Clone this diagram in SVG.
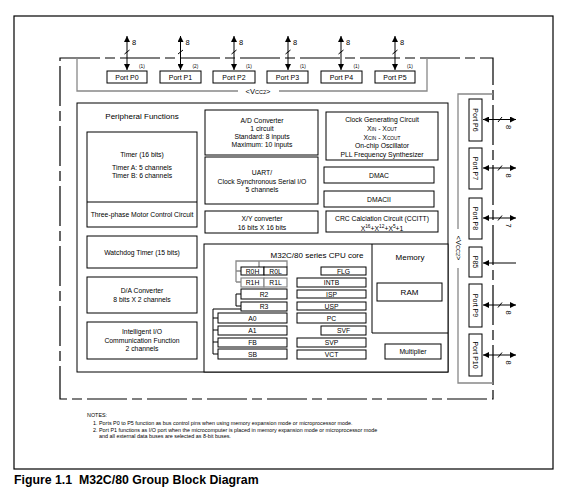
<svg xmlns="http://www.w3.org/2000/svg" width="574" height="496" viewBox="0 0 574 496">
<style>
text{font-family:"Liberation Sans",Arial,sans-serif;fill:#000}
.b{fill:#fff;stroke:#000;stroke-width:1}
.bg{fill:#fff;stroke:#888;stroke-width:1.2}
.g{fill:none;stroke:#888;stroke-width:1.3}
.k{fill:none;stroke:#000;stroke-width:1}
.d{fill:none;stroke:#000;stroke-width:1.2;stroke-dasharray:40 5 10 5}
.t{font-size:6.8px;text-anchor:middle}
.p{font-size:7px;text-anchor:middle}
.h{font-size:8px;text-anchor:middle}
.s{font-size:4.8px}
.n{font-size:5.4px}
.a{stroke:#000;stroke-width:1;marker-start:url(#ah);marker-end:url(#ah)}
</style>
<defs>
<marker id="ah" viewBox="0 0 10 10" refX="10" refY="5" markerUnits="userSpaceOnUse" markerWidth="8" markerHeight="6" orient="auto-start-reverse"><path d="M0,0 L10,5 L0,10 z" fill="#000"/></marker>
</defs>
<rect x="14" y="16" width="539" height="453" fill="none" stroke="#000" stroke-width="1.2"/>
<rect x="60" y="58" width="433" height="341" class="d"/>
<g id="vcc2-top"><path class="g" d="M77,58 V91 H238 M279,91 H427 V58"/><text x="258" y="94" font-size="7.5" text-anchor="middle">&lt;V<tspan font-size="5.5">CC2</tspan>&gt;</text></g>
<g id="vcc2-right"><path class="g" d="M493,94 H458 V229 M458,268 V383 H493"/><text transform="translate(458,248) rotate(90)" font-size="7.5" text-anchor="middle" dominant-baseline="central">&lt;V<tspan font-size="5.5">CC2</tspan>&gt;</text></g>
<g id="connectors">
<line class="a" x1="127" y1="36" x2="127" y2="70"/><line class="a" x1="180.5" y1="36" x2="180.5" y2="70"/><line class="a" x1="234" y1="36" x2="234" y2="70"/><line class="a" x1="288" y1="36" x2="288" y2="70"/><line class="a" x1="341" y1="36" x2="341" y2="70"/><line class="a" x1="395" y1="36" x2="395" y2="70"/>
<path class="k" d="M124.5,54 L129.5,50 M178,54 L183,50 M231.5,54 L236.5,50 M285.5,54 L290.5,50 M338.5,54 L343.5,50 M392.5,54 L397.5,50"/>
<line class="a" x1="483" y1="119.5" x2="516" y2="119.5"/><line class="a" x1="483" y1="168" x2="516" y2="168"/><line class="a" x1="483" y1="218" x2="516" y2="218"/><line class="a" x1="483" y1="305" x2="516" y2="305"/><line class="a" x1="483" y1="355" x2="516" y2="355"/>
<line x1="516" y1="263" x2="483" y2="263" stroke="#000" stroke-width="1" marker-end="url(#ah)"/>
<path class="k" d="M498,122 L502,117 M498,170.5 L502,165.5 M498,220.5 L502,215.5 M498,307.5 L502,302.5 M498,357.5 L502,352.5"/>
</g>
<g id="conn-labels" font-size="7.5">
<text x="132" y="45">8</text><text x="185.5" y="45">8</text><text x="239" y="45">8</text><text x="293" y="45">8</text><text x="346" y="45">8</text><text x="400" y="45">8</text>
<text transform="translate(506,125) rotate(90)">8</text><text transform="translate(506,173.5) rotate(90)">8</text><text transform="translate(506,223.5) rotate(90)">7</text><text transform="translate(506,310.5) rotate(90)">8</text><text transform="translate(506,360.5) rotate(90)">8</text>
</g>
<g id="port-p0"><rect class="b" x="107" y="71" width="40" height="12"/><text class="p" x="127" y="79.5">Port P0</text><text class="s" x="139" y="68">(1)</text></g>
<g id="port-p1"><rect class="b" x="160" y="71" width="41" height="12"/><text class="p" x="180.5" y="79.5">Port P1</text><text class="s" x="192.5" y="68">(2)</text></g>
<g id="port-p2"><rect class="b" x="213" y="71" width="42" height="12"/><text class="p" x="234" y="79.5">Port P2</text><text class="s" x="246" y="68">(1)</text></g>
<g id="port-p3"><rect class="b" x="267" y="71" width="41" height="12"/><text class="p" x="287.5" y="79.5">Port P3</text><text class="s" x="300" y="68">(1)</text></g>
<g id="port-p4"><rect class="b" x="321" y="71" width="41" height="12"/><text class="p" x="341.5" y="79.5">Port P4</text><text class="s" x="353.5" y="68">(1)</text></g>
<g id="port-p5"><rect class="b" x="375" y="71" width="40" height="12"/><text class="p" x="395" y="79.5">Port P5</text><text class="s" x="407" y="68">(1)</text></g>
<g id="port-p6"><rect class="b" x="469" y="99" width="13" height="42"/><text class="p" transform="translate(475.5,120) rotate(90)" dominant-baseline="central">Port P6</text></g>
<g id="port-p7"><rect class="b" x="469" y="148" width="13" height="41"/><text class="p" transform="translate(475.5,168.5) rotate(90)" dominant-baseline="central">Port P7</text></g>
<g id="port-p8"><rect class="b" x="469" y="198" width="13" height="41"/><text class="p" transform="translate(475.5,218.5) rotate(90)" dominant-baseline="central">Port P8</text></g>
<g id="port-p85"><rect class="b" x="469" y="247" width="13" height="30"/><text class="p" transform="translate(475.5,262) rotate(90)" dominant-baseline="central">P85</text></g>
<g id="port-p9"><rect class="b" x="469" y="284" width="13" height="43"/><text class="p" transform="translate(475.5,305.5) rotate(90)" dominant-baseline="central">Port P9</text></g>
<g id="port-p10"><rect class="b" x="469" y="334" width="13" height="42"/><text class="p" transform="translate(475.5,355) rotate(90)" dominant-baseline="central">Port P10</text></g>
<g id="peripheral"><rect class="b" x="77" y="103" width="371" height="269"/><text x="142" y="119" font-size="8" text-anchor="middle">Peripheral Functions</text></g>
<g id="timer"><rect class="b" x="87" y="132" width="110" height="95"/><line class="k" x1="87" y1="202" x2="197" y2="202"/><text class="t" x="142" y="157">Timer (16 bits)</text><text class="t" x="142" y="170">Timer A: 5 channels</text><text class="t" x="142" y="178">Timer B: 6 channels</text><text class="t" x="142" y="217">Three-phase Motor Control Circuit</text></g>
<g id="watchdog"><rect class="b" x="87" y="236" width="110" height="32"/><text class="t" x="142" y="254.5">Watchdog Timer (15 bits)</text></g>
<g id="da"><rect class="b" x="87" y="277" width="110" height="36"/><text class="t" x="142" y="293">D/A Converter</text><text class="t" x="142" y="301.5">8 bits X 2 channels</text></g>
<g id="iio"><rect class="b" x="87" y="322" width="110" height="37"/><text class="t" x="142" y="334">Intelligent I/O</text><text class="t" x="142" y="342.5">Communication Function</text><text class="t" x="142" y="351">2 channels</text></g>
<g id="ad"><rect class="b" x="205" y="110" width="113" height="45"/><text class="t" x="262" y="123">A/D Converter</text><text class="t" x="262" y="131">1 circuit</text><text class="t" x="262" y="139">Standard: 8 inputs</text><text class="t" x="262" y="147">Maximum: 10 inputs</text></g>
<g id="uart"><rect class="b" x="205" y="157" width="113" height="47"/><text class="t" x="262" y="175">UART/</text><text class="t" x="262" y="184">Clock Synchronous Serial I/O</text><text class="t" x="262" y="192">5 channels</text></g>
<g id="xy"><rect class="b" x="205" y="211" width="113" height="22"/><text class="t" x="262" y="221">X/Y converter</text><text class="t" x="262" y="230">16 bits X 16 bits</text></g>
<g id="clock"><rect class="b" x="326" y="112" width="112" height="48"/><text class="t" x="382" y="122">Clock Generating Circuit</text><text class="t" x="382" y="131">X<tspan font-size="4.8">IN</tspan> - X<tspan font-size="4.8">OUT</tspan></text><text class="t" x="382" y="139.5">X<tspan font-size="4.8">CIN</tspan> - X<tspan font-size="4.8">COUT</tspan></text><text class="t" x="382" y="148">On-chip Oscillator</text><text class="t" x="382" y="156.5">PLL Frequency Synthesizer</text></g>
<g id="dmac"><rect class="b" x="324" y="167" width="110" height="16"/><text class="t" x="379" y="177.5">DMAC</text></g>
<g id="dmacii"><rect class="b" x="324" y="191" width="110" height="16"/><text class="t" x="379" y="201.5">DMACII</text></g>
<g id="crc"><rect class="b" x="326" y="211" width="112" height="21"/><text class="t" x="382" y="221">CRC Calciation Circuit (CCITT)</text><text class="t" x="382" y="230.5">X<tspan font-size="4.8" dy="-2.5">16</tspan><tspan dy="2.5">+X</tspan><tspan font-size="4.8" dy="-2.5">12</tspan><tspan dy="2.5">+X</tspan><tspan font-size="4.8" dy="-2.5">5</tspan><tspan dy="2.5">+1</tspan></text></g>
<g id="cpu"><rect class="b" x="204" y="244" width="244" height="128"/><text class="h" x="317" y="258">M32C/80 series CPU core</text>
<path class="g" d="M236,282 V261 H287 V267 M259,261 V267 M236,271 H241 M236,282 H241"/>
<path class="k" d="M241,294 H236 V306 H241 M241,309 H213 V354 H218 M213,318 H218 M213,330 H218 M213,342 H218"/>
<rect class="b" x="241" y="267" width="23" height="8"/><text class="t" x="252.5" y="273.5">R0H</text>
<rect class="b" x="264" y="267" width="23" height="8"/><text class="t" x="275.5" y="273.5">R0L</text>
<rect class="bg" x="241" y="278" width="23" height="9"/><text class="t" x="252.5" y="285">R1H</text>
<rect class="bg" x="264" y="278" width="23" height="9"/><text class="t" x="275.5" y="285">R1L</text>
<rect class="b" x="241" y="289" width="46" height="10"/><text class="t" x="264" y="296.5">R2</text>
<rect class="b" x="241" y="302" width="46" height="9"/><text class="t" x="264" y="309">R3</text>
<rect class="b" x="218" y="313" width="69" height="10"/><text class="t" x="252.5" y="320.5">A0</text>
<rect class="b" x="218" y="326" width="69" height="9"/><text class="t" x="252.5" y="333">A1</text>
<rect class="b" x="218" y="338" width="69" height="9"/><text class="t" x="252.5" y="345">FB</text>
<rect class="b" x="218" y="349" width="69" height="10"/><text class="t" x="252.5" y="356.5">SB</text>
<rect class="b" x="321" y="267" width="45" height="8"/><text class="t" x="343.5" y="273.5">FLG</text>
<rect class="b" x="297" y="278" width="69" height="9"/><text class="t" x="331.5" y="285">INTB</text>
<rect class="b" x="297" y="290" width="69" height="8"/><text class="t" x="331.5" y="296.5">ISP</text>
<rect class="b" x="297" y="302" width="69" height="8"/><text class="t" x="331.5" y="308.5">USP</text>
<rect class="b" x="297" y="313" width="69" height="10"/><text class="t" x="331.5" y="320.5">PC</text>
<rect class="b" x="321" y="326" width="45" height="9"/><text class="t" x="343.5" y="333">SVF</text>
<rect class="b" x="297" y="338" width="69" height="9"/><text class="t" x="331.5" y="345">SVP</text>
<rect class="b" x="297" y="350" width="69" height="9"/><text class="t" x="331.5" y="357">VCT</text>
</g>
<g id="memory"><path class="k" d="M372,244 V333 H448"/><text class="h" x="410" y="260">Memory</text><rect class="b" x="377" y="283" width="65" height="18"/><text class="h" x="409.5" y="295">RAM</text></g>
<g id="multiplier"><rect class="b" x="385" y="344" width="56" height="15"/><text class="t" x="413" y="354">Multiplier</text></g>
<g id="notes" class="n"><text x="87" y="417">NOTES:</text><text x="93" y="425">1. Ports P0 to P5 function as bus control pins when using memory expansion mode or microprocessor mode.</text><text x="93" y="431.5">2. Port P1 functions as I/O port when the microcomputer is placed in memory expansion mode or microprocessor mode</text><text x="99" y="438">and all external data buses are selected as 8-bit buses.</text></g>
<text x="14" y="484" font-size="12.3" font-weight="bold" style="white-space:pre">Figure 1.1  M32C/80 Group Block Diagram</text>
</svg>
